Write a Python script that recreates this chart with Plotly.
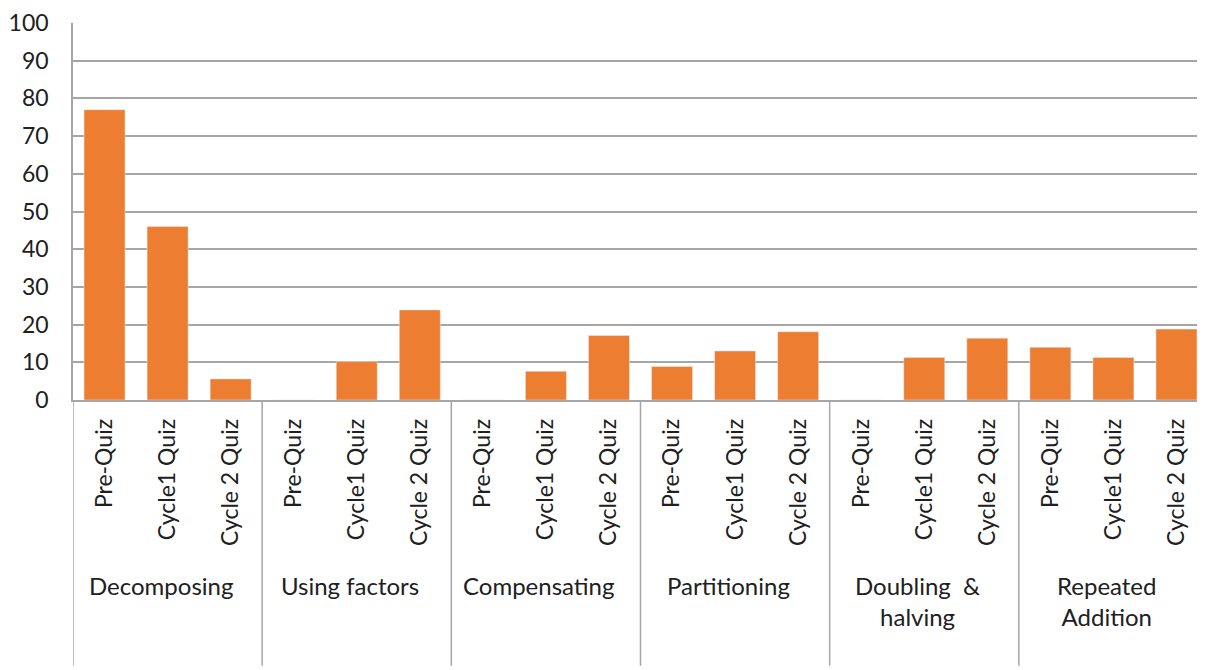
import plotly.graph_objects as go

groups = ["Decomposing", "Using factors", "Compensating", "Partitioning", "Doubling  &<br>halving", "Repeated<br>Addition"]
quizzes = ["Pre-Quiz", "Cycle1 Quiz", "Cycle 2 Quiz"]
values = [
    [77.0, 46.0, 5.6],
    [0, 10.2, 23.9],
    [0, 7.6, 17.1],
    [8.9, 13.0, 18.1],
    [0, 11.3, 16.4],
    [14.0, 11.3, 18.8],
]
y_ticks = [0, 10, 20, 30, 40, 50, 60, 70, 80, 90, 100]

x_pos = []
y_vals = []
tick_text = []
for gi, g in enumerate(groups):
    for qi, q in enumerate(quizzes):
        x_pos.append(gi * len(quizzes) + qi)
        y_vals.append(values[gi][qi])
        tick_text.append(q)

FONT = "Lato"
TXT = "#202020"
GRID = "#a6a6a6"

# page has an 8px body margin; figure sized to fill the rest
W, H = 1197, 662
OFF = 8
plot_left, plot_top, plot_bottom, plot_right = 73 - OFF, 23 - OFF, 399.6 - OFF, 1208 - OFF
plot_h = plot_bottom - plot_top
n = len(x_pos)
cat_px = (plot_right - plot_left) / n
x_end = n - 0.5 - (plot_right - W) / cat_px

fig = go.Figure()
fig.add_trace(go.Bar(x=x_pos, y=y_vals, marker_color="#ED7D31", width=0.65))

fig.update_layout(
    width=W, height=H,
    margin=dict(l=plot_left, r=0, t=plot_top, b=H - plot_bottom),
    paper_bgcolor="white", plot_bgcolor="white",
    showlegend=False,
    font=dict(family=FONT, size=22, color=TXT),
    xaxis=dict(
        range=[-0.5, x_end], automargin=False,
        tickmode="array", tickvals=x_pos, ticktext=tick_text,
        tickangle=-90, showgrid=False, zeroline=False,
        showline=True, linecolor=GRID, linewidth=1.5,
        ticks="", ticklabelstandoff=8,
        tickfont=dict(size=23, family=FONT, color=TXT),
    ),
    yaxis=dict(
        range=[0, 100], tickvals=y_ticks, showgrid=True, gridcolor=GRID, gridwidth=1.5,
        zeroline=False, showline=True, linecolor=GRID, linewidth=1.5, automargin=False,
        ticks="", ticklabelstandoff=18,
        tickfont=dict(size=23, family=FONT, color=TXT),
    ),
)

# group separators and labels
depth = -(665 - 399.6) / plot_h
for gi in range(len(groups) + 1):
    xb = gi * len(quizzes) - 0.5
    fig.add_shape(type="line", xref="x", yref="paper", x0=xb, x1=xb, y0=0, y1=depth,
                  line=dict(color=GRID, width=1.5))
for gi, g in enumerate(groups):
    two = "<br>" in g
    yc = 600 if two else 585
    fig.add_annotation(xref="x", yref="paper", x=gi * len(quizzes) + 1,
                       y=-(yc - 399.6) / plot_h,
                       text=g, showarrow=False, xanchor="center", yanchor="middle",
                       xshift=-7, font=dict(family=FONT, size=24, color=TXT))

fig.write_html("out.html")
